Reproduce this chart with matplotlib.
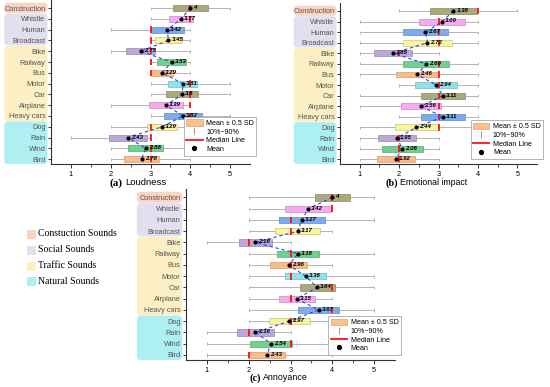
import numpy as np
import matplotlib.pyplot as plt
from matplotlib.patches import FancyBboxPatch, Patch
from matplotlib.lines import Line2D
from matplotlib.transforms import IdentityTransform

plt.rcParams['font.family'] = ['Liberation Sans', 'DejaVu Sans']

sounds = ['Construction', 'Whistle', 'Human', 'Broadcast', 'Bike', 'Railway', 'Bus',
          'Motor', 'Car', 'Airplane', 'Heavy cars', 'Dog', 'Rain', 'Wind', 'Bird']

# (a) Loudness
loud_mean = [4, 3.77, 3.42, 3.45, 2.75, 3.53, 3.29, 3.81, 3.8, 3.39, 3.82, 3.29, 2.43, 2.88, 2.78]
loud_sd = [0.89, 0.61, 0.83, 0.66, 0.73, 0.72, 0.56, 0.74, 0.81, 0.87, 0.97, 0.77, 0.94, 0.88, 0.88]
loud_med = [4, 4, 3, 3, 3, 3, 3, 4, 4, 4, 4, 3, 3, 3, 3]
loud_p10 = [3, 3, 2, 3, 2, 3, 3, 3, 3, 2, 3, 2, 1, 2, 2]
loud_p90 = [5, 4, 4, 4, 4, 4, 4, 5, 5, 4, 5, 4, 3, 4, 4]

# (b) Emotional impact
emo_mean = [3.38, 3.09, 2.67, 2.72, 1.85, 2.69, 2.46, 2.94, 3.11, 2.56, 3.11, 2.44, 1.95, 2.08, 1.92]
emo_sd = [1.21, 1.16, 1.13, 1.23, 0.97, 1.16, 1.06, 1.08, 1.12, 1.02, 1.10, 1.09, 0.98, 1.03, 0.97]
emo_med = [4, 3, 3, 3, 2, 3, 3, 3, 3, 3, 3, 3, 2, 2, 2]
emo_p10 = [2, 1, 1, 1, 1, 1, 1, 2, 1, 1, 2, 1, 1, 1, 1]
emo_p90 = [5, 4, 4, 4, 3, 4, 4, 4, 4, 4, 4, 4, 3, 3, 3]

# (c) Annoyance
ann_mean = [4, 3.42, 3.27, 3.17, 2.16, 3.18, 2.96, 3.36, 3.64, 3.15, 3.67, 2.97, 2.16, 2.54, 2.43]
ann_sd = [0.85, 1.11, 1.11, 1.06, 0.80, 0.99, 0.88, 0.99, 0.83, 0.86, 0.96, 0.97, 0.88, 1.00, 0.88]
ann_med = [4, 4, 3, 3, 2, 3, 3, 3, 4, 3, 4, 3, 2, 3, 2]
ann_p10 = [2, 2, 2, 2, 1, 2, 2, 2, 2, 2, 2, 2, 1, 1, 1]
ann_p90 = [5, 4, 5, 4, 3, 5, 4, 5, 5, 4, 5, 4, 3, 4, 4]

# groups: name, first row, last row, colour
groups = ['Constuction Sounds', 'Social Sounds', 'Traffic Sounds', 'Natural Sounds']
group_rows = [(0, 0), (1, 3), (4, 10), (11, 14)]
group_colors = ['#fad3c2', '#e2dfef', '#fcefc4', '#aef0f2']

fill_cycle = ['#aaa97c', '#f6aaf2', '#7eaaee', '#f8f59c', '#bba8d8', '#72d08e', '#f8bd8c', '#92e2ee']
edge_cycle = ['#8a8960', '#c98ac6', '#5f8ac8', '#c9c678', '#9987b5', '#55ab6e', '#d29a6c', '#6fbdc8']

W, H = 550, 387
fig = plt.figure(figsize=(W / 100, H / 100), dpi=100)


def px_rect(l, t, r, b):
    return [l / W, 1 - b / H, (r - l) / W, (b - t) / H]


def draw_panel(rect, mean, sd, med, p10, p90, letter, name, name_size, title_xy, leg_anchor):
    ax = fig.add_axes(rect)
    y = np.arange(len(sounds))
    mean = np.array(mean)
    sd = np.array(sd)
    fills = [fill_cycle[i % 8] for i in y]
    edges = [edge_cycle[i % 8] for i in y]

    # 10%-90% whiskers
    ax.hlines(y, p10, p90, color='#b5b5b5', lw=0.7, zorder=1)
    ax.vlines(p10, y - 0.14, y + 0.14, color='#b5b5b5', lw=0.7, zorder=1)
    ax.vlines(p90, y - 0.14, y + 0.14, color='#b5b5b5', lw=0.7, zorder=1)

    # mean +- 0.5 SD
    ax.barh(y, sd, left=mean - sd / 2, height=0.56, color=fills, edgecolor=edges, lw=0.5, zorder=2)
    # median
    ax.vlines(med, y - 0.3, y + 0.3, color='#ff1010', lw=1.3, zorder=3)
    # mean
    ax.plot(mean, y, color='#2845e8', lw=0.8, ls=(0, (3, 2.5)), zorder=4)
    ax.scatter(mean, y, s=9, color='black', zorder=5, lw=0)
    for m, yy in zip(mean, y):
        ax.annotate(f'{m:g}', (m, yy), xytext=(2.2, 0.4), textcoords='offset points',
                    fontsize=4.4, fontweight='bold', style='italic', va='center', zorder=6)

    ax.set_xlim(0.5, 5.5)
    ax.set_ylim(14.45, -0.75)
    ax.set_yticks(y)
    ax.set_yticklabels(sounds)
    ax.set_xticks([1, 2, 3, 4, 5])
    ax.set_xticks(np.arange(1.5, 5.5, 1.0), minor=True)
    ax.tick_params(axis='y', length=2.5, width=0.7, pad=1.5, labelsize=5.3, labelcolor='#555555', color='#333333')
    ax.tick_params(axis='x', which='major', length=3, width=0.7, pad=2, labelsize=5.3, color='#333333')
    ax.tick_params(axis='x', which='minor', length=1.8, width=0.6, color='#333333')
    for s in ['top', 'right']:
        ax.spines[s].set_visible(False)
    for s in ['left', 'bottom']:
        ax.spines[s].set_linewidth(0.8)
        ax.spines[s].set_color('#333333')

    # group backgrounds behind the tick labels
    for (r0, r1), col in zip(group_rows, group_colors):
        x0, _ = ax.transAxes.transform((-0.235, 0))
        x1, _ = ax.transAxes.transform((-0.018, 0))
        _, ytop = ax.transData.transform((1, r0 - 0.5))
        _, ybot = ax.transData.transform((1, r1 + 0.46))
        box = FancyBboxPatch((x0, ybot), x1 - x0, ytop - ybot,
                             boxstyle='round,pad=0,rounding_size=4',
                             facecolor=col, edgecolor='none',
                             transform=IdentityTransform(), zorder=0)
        fig.add_artist(box)

    handles = [Patch(facecolor='#f9c190', edgecolor='#e0a070', lw=0.5),
               ax.errorbar([], [], yerr=[], fmt='none', ecolor='#999999', capsize=1.5, elinewidth=0.7),
               Line2D([], [], color='#ff1010', lw=1.3),
               Line2D([], [], marker='o', ms=2.8, color='black', ls='none')]
    labels = ['Mean ± 0.5 SD', '10%~90%', 'Median Line', 'Mean']
    leg = ax.legend(handles, labels, loc='lower right', bbox_to_anchor=leg_anchor, fontsize=5.1,
                    handlelength=2.3, handleheight=1.0, labelspacing=0.15, borderpad=0.35,
                    handletextpad=0.5, fancybox=False, framealpha=1, edgecolor='#aaaaaa')
    leg.get_frame().set_linewidth(0.6)

    fig.text(title_xy[0] / W, 1 - title_xy[1] / H, letter, ha='right', va='center',
             family=['Liberation Serif', 'DejaVu Serif'], fontweight='bold', fontsize=name_size + 1)
    fig.text((title_xy[0] + 2) / W, 1 - title_xy[1] / H, name, ha='left', va='center', fontsize=name_size)
    return ax


draw_panel(px_rect(51, 0, 250, 164), loud_mean, loud_sd, loud_med, loud_p10, loud_p90,
           '(a)', 'Loudness', 6.8, (123, 183), (1.05, 0.03))
draw_panel(px_rect(340, 3, 537, 164), emo_mean, emo_sd, emo_med, emo_p10, emo_p90,
           '(b)', 'Emotional impact', 6.3, (398, 183), (1.05, 0.01))
draw_panel(px_rect(186, 189, 395, 360), ann_mean, ann_sd, ann_med, ann_p10, ann_p90,
           '(c)', 'Annoyance', 6.4, (261, 378), (1.045, 0.01))

# group key on the left
key_y = [234, 250, 266, 281]
for g, col, yy in zip(groups, group_colors, key_y):
    fig.patches.append(plt.Rectangle((27 / W, 1 - (yy + 4.5) / H), 9 / W, 9 / H,
                                     transform=fig.transFigure, facecolor=col, edgecolor='none'))
    fig.text(38 / W, 1 - yy / H, g, ha='left', va='center',
             family=['Liberation Serif', 'DejaVu Serif'], fontsize=7)

fig.savefig('out.png', dpi=100)
